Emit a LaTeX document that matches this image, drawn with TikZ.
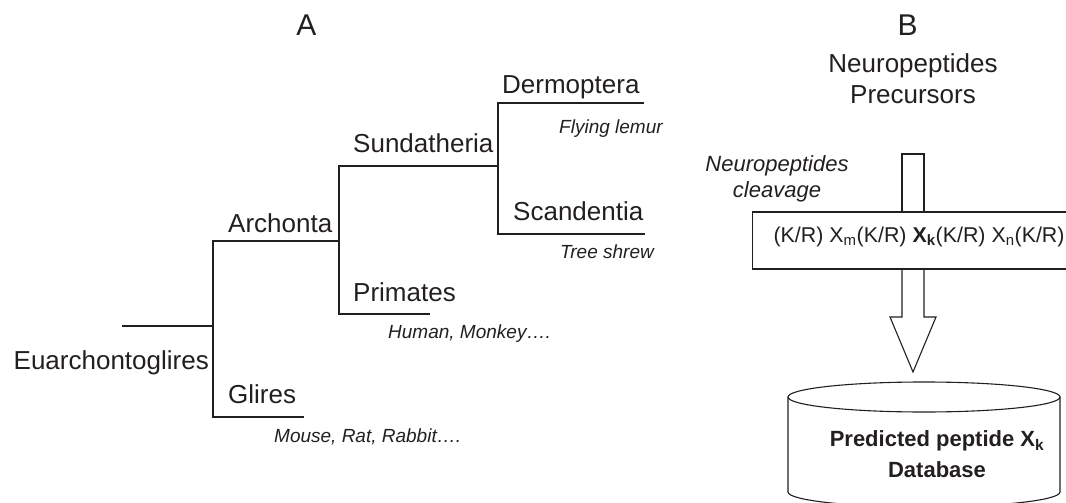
\documentclass[tikz,border=0pt]{standalone}
\usepackage{fontspec}
\setmainfont{Liberation Sans}
\usetikzlibrary{positioning}
\definecolor{ink}{HTML}{231F20}

\begin{document}
\begin{tikzpicture}[x=1pt,y=-1pt,
  every node/.style={inner sep=0pt,text=ink},
  branch/.style={draw=ink,line width=1.1pt},
  taxon/.style={anchor=base west,font=\fontsize{26}{31}\selectfont},
  species/.style={anchor=base west,font=\fontsize{19}{23}\selectfont\itshape},
  panel/.style={anchor=base,font=\fontsize{30}{36}\selectfont},
  heading/.style={anchor=base,align=center,font=\fontsize{26}{31}\selectfont},
  motifbox/.style={draw=ink,line width=1.1pt,anchor=west,minimum height=57pt,inner xsep=21pt,text height=13pt,text depth=10pt,font=\fontsize{21.4}{26}\selectfont},
  dbtext/.style={anchor=base,align=center,font=\fontsize{22}{31}\selectfont\bfseries}]
\useasboundingbox (0,0) rectangle (1066,503);
\clip (0,0) rectangle (1066,503);

% A: tree
\coordinate (rt) at (122,326);
\coordinate (eua) at (213,326);
\coordinate (arc) at (339,241);
\coordinate (sun) at (498,166);
\coordinate (gli) at (304,417);
\coordinate (pri) at (430,314);
\coordinate (der) at (644,103);
\coordinate (sca) at (645,234);
\draw[branch] (rt) -- (eua);
\draw[branch] (arc) -| (eua) |- (gli);
\draw[branch] (sun) -| (arc) |- (pri);
\draw[branch] (der) -| (sun) |- (sca);

\node[panel] (pA) at (306.5,36) {A};
\node[taxon,anchor=base east] (lEua) at (209,369) {Euarchontoglires};
\node[taxon] (lArc) at (228,232) {Archonta};
\node[taxon] (lGli) at (228,403) {Glires};
\node[taxon] (lSun) at (353,152) {Sundatheria};
\node[taxon] (lPri) at (353,301) {Primates};
\node[taxon] (lDer) at (502,94) {Dermoptera};
\node[taxon] (lSca) at (513,220) {Scandentia};
\node[species] (sPri) at (388,338) {Human, Monkey….};
\node[species] (sGli) at (274,442) {Mouse, Rat, Rabbit….};
\node[species] (sDer) at (559,133) {Flying lemur};
\node[species] (sSca) at (560,258) {Tree shrew};

% B: cleavage
\node[panel] (pB) at (907.5,36) {B};
\node[heading] (prec) at (913,103) {Neuropeptides\\Precursors};
\node[species,anchor=base,align=center,font=\fontsize{22}{26}\selectfont\itshape] (cleave) at (777,197) {Neuropeptides\\cleavage};
\node[motifbox] (motif) at (752,240.5) {(K/R) X\textsubscript{m}(K/R) \textbf{X\textsubscript{k}}(K/R) X\textsubscript{n}(K/R)};
\draw[branch] (902,212) |- (924,154) -- (924,212);
\draw[branch] (902,269) -- (902,317) -- (890,317) -- (913,372) -- (936,317) -- (924,317) -- (924,269);
\draw[branch] (788,397) -- (788,492) arc[start angle=180,end angle=0,x radius=136,y radius=15] -- (1060,397);
\draw[branch] (924,397) ellipse[x radius=136,y radius=15];
\node[dbtext] (db) at (937,477) {Predicted peptide X\textsubscript{k}\\Database};
\end{tikzpicture}
\end{document}
